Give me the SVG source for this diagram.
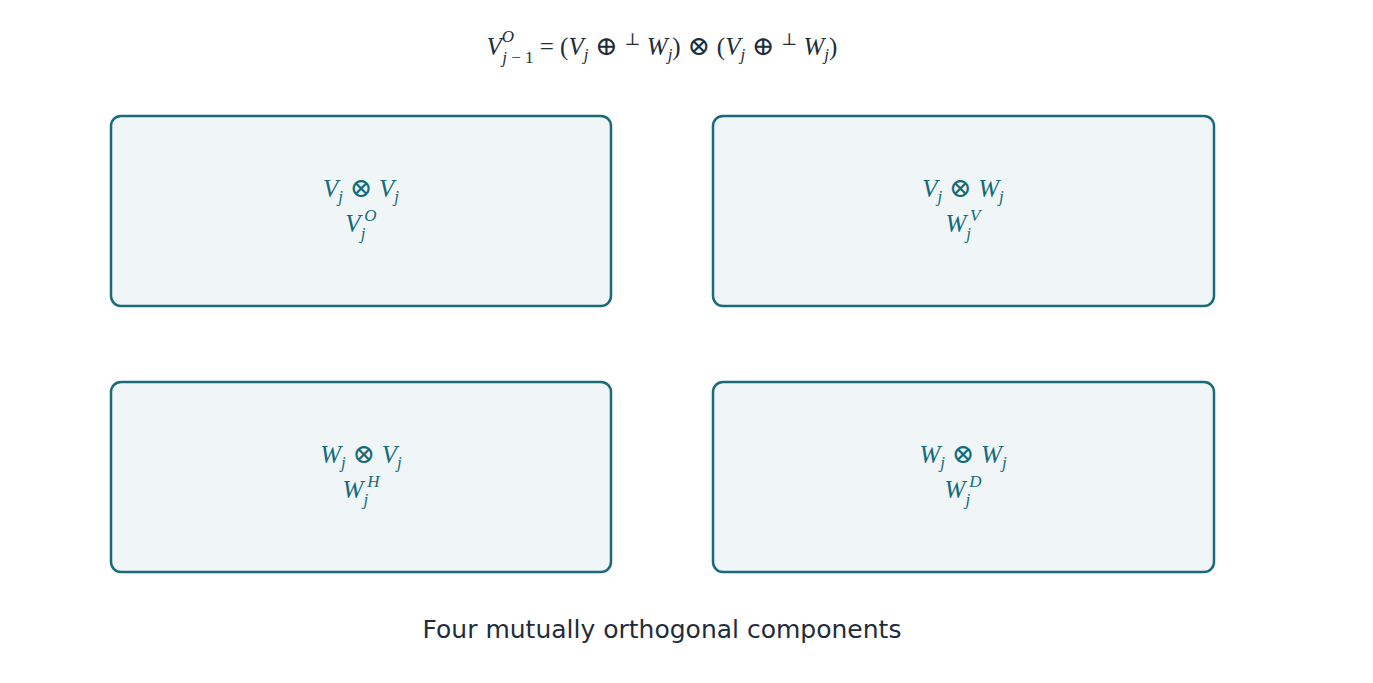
<svg xmlns="http://www.w3.org/2000/svg" width="1373" height="683" viewBox="0 0 1373 683">
<style>
.box{fill:#f0f5f7;stroke:#1a6b7a;stroke-width:2.5}
.m{font-family:"Liberation Serif","DejaVu Serif",serif;font-size:25px;fill:#156b79;text-anchor:middle}
.i{font-style:italic}
.s{font-size:17px;font-style:italic}
.u{font-size:17px;font-style:normal}
.op{font-size:27px}
.t{font-family:"Liberation Serif","DejaVu Serif",serif;font-size:25px;fill:#1f2d3a}
.cap{font-family:"DejaVu Sans","Noto Sans",sans-serif;font-size:25px;fill:#1f2d3a;text-anchor:middle}
</style>
<rect width="1373" height="683" fill="#ffffff"/>
<g id="title">
<text class="t" x="662" y="55" text-anchor="middle"><tspan class="i">V</tspan><tspan class="s" dy="-13">O</tspan><tspan class="s" dx="-12" dy="21">j</tspan><tspan class="u"> − 1</tspan><tspan dy="-8"> = (</tspan><tspan class="i">V</tspan><tspan class="s" dy="5">j</tspan><tspan class="op" dy="-5"> ⊕ </tspan><tspan class="u" dy="-10">⊥</tspan><tspan class="i" dy="10"> W</tspan><tspan class="s" dy="5">j</tspan><tspan dy="-5">)</tspan><tspan class="op"> ⊗ </tspan><tspan>(</tspan><tspan class="i">V</tspan><tspan class="s" dy="5">j</tspan><tspan class="op" dy="-5"> ⊕ </tspan><tspan class="u" dy="-10">⊥</tspan><tspan class="i" dy="10"> W</tspan><tspan class="s" dy="5">j</tspan><tspan dy="-5">)</tspan></text>
</g>
<g id="node-VV">
<rect class="box" x="111" y="116" width="500" height="190" rx="10"/>
<text class="m" x="361" y="197"><tspan class="i">V</tspan><tspan class="s" dy="5">j</tspan><tspan class="op" dy="-5"> ⊗ </tspan><tspan class="i">V</tspan><tspan class="s" dy="5">j</tspan></text>
<text class="m" x="361" y="232"><tspan class="i">V</tspan><tspan class="s" dy="7">j</tspan><tspan class="s" dx="-1" dy="-18">O</tspan></text>
</g>
<g id="node-VW">
<rect class="box" x="713" y="116" width="501" height="190" rx="10"/>
<text class="m" x="963" y="197"><tspan class="i">V</tspan><tspan class="s" dy="5">j</tspan><tspan class="op" dy="-5"> ⊗ </tspan><tspan class="i">W</tspan><tspan class="s" dy="5">j</tspan></text>
<text class="m" x="963" y="232"><tspan class="i">W</tspan><tspan class="s" dy="7">j</tspan><tspan class="s" dx="-1" dy="-18">V</tspan></text>
</g>
<g id="node-WV">
<rect class="box" x="111" y="382" width="500" height="190" rx="10"/>
<text class="m" x="361" y="463"><tspan class="i">W</tspan><tspan class="s" dy="5">j</tspan><tspan class="op" dy="-5"> ⊗ </tspan><tspan class="i">V</tspan><tspan class="s" dy="5">j</tspan></text>
<text class="m" x="361" y="498"><tspan class="i">W</tspan><tspan class="s" dy="7">j</tspan><tspan class="s" dx="-1" dy="-18">H</tspan></text>
</g>
<g id="node-WW">
<rect class="box" x="713" y="382" width="501" height="190" rx="10"/>
<text class="m" x="963" y="463"><tspan class="i">W</tspan><tspan class="s" dy="5">j</tspan><tspan class="op" dy="-5"> ⊗ </tspan><tspan class="i">W</tspan><tspan class="s" dy="5">j</tspan></text>
<text class="m" x="963" y="498"><tspan class="i">W</tspan><tspan class="s" dy="7">j</tspan><tspan class="s" dx="-1" dy="-18">D</tspan></text>
</g>
<g id="connectors"></g>
<text class="cap" x="662" y="638">Four mutually orthogonal components</text>
</svg>
